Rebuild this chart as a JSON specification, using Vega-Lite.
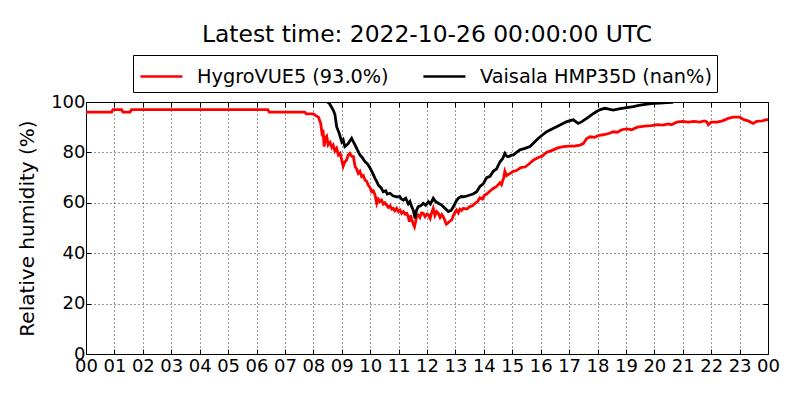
{
  "$schema": "https://vega.github.io/schema/vega-lite/v6.json",
  "width": 682,
  "height": 252,
  "autosize": {"type": "none"},
  "padding": {"left": 86, "top": 102, "right": 32, "bottom": 46},
  "background": "white",
  "config": {
    "font": "DejaVu Sans",
    "view": {"stroke": "black", "strokeWidth": 1},
    "axis": {"domain": false, "gridColor": "black", "gridDash": [1, 3], "gridOpacity": 0.8, "gridWidth": 1, "tickColor": "black", "labelColor": "black", "titleColor": "black", "labelFont": "DejaVu Sans", "titleFont": "DejaVu Sans"}
  },
  "title": {"text": "Latest time: 2022-10-26 00:00:00 UTC", "fontSize": 23.4, "fontWeight": "normal", "font": "DejaVu Sans", "color": "black", "anchor": "middle", "frame": "group", "baseline": "alphabetic", "offset": -11},
  "datasets": {
    "hygro": [
      {"h": 0, "v": 96}, {"h": 0.9, "v": 96}, {"h": 0.95, "v": 97}, {"h": 1.25, "v": 97}, {"h": 1.3, "v": 96}, {"h": 1.55, "v": 96}, {"h": 1.6, "v": 97}, {"h": 6.4, "v": 97}, {"h": 6.45, "v": 96}, {"h": 7.7, "v": 96}, {"h": 7.75, "v": 95.3}, {"h": 8.0, "v": 95.3}, {"h": 8.1, "v": 94.5}, {"h": 8.18, "v": 94}, {"h": 8.26, "v": 91.5}, {"h": 8.3, "v": 88}, {"h": 8.34, "v": 89}, {"h": 8.38, "v": 82.3}, {"h": 8.43, "v": 86}, {"h": 8.47, "v": 86.5}, {"h": 8.52, "v": 83}, {"h": 8.59, "v": 84}, {"h": 8.65, "v": 82}, {"h": 8.7, "v": 82.9}, {"h": 8.76, "v": 80.5}, {"h": 8.82, "v": 81.6}, {"h": 8.88, "v": 79}, {"h": 8.94, "v": 79.6}, {"h": 9.0, "v": 77}, {"h": 9.05, "v": 74.5}, {"h": 9.1, "v": 76}, {"h": 9.17, "v": 77}, {"h": 9.23, "v": 79}, {"h": 9.28, "v": 79.6}, {"h": 9.35, "v": 78.5}, {"h": 9.41, "v": 78.3}, {"h": 9.47, "v": 74.3}, {"h": 9.52, "v": 73.5}, {"h": 9.58, "v": 71.7}, {"h": 9.64, "v": 72.5}, {"h": 9.7, "v": 70.4}, {"h": 9.76, "v": 70.8}, {"h": 9.82, "v": 69}, {"h": 9.88, "v": 68.5}, {"h": 9.93, "v": 67}, {"h": 10.0, "v": 66}, {"h": 10.05, "v": 64.4}, {"h": 10.11, "v": 64.8}, {"h": 10.17, "v": 63.1}, {"h": 10.23, "v": 59.8}, {"h": 10.28, "v": 61.5}, {"h": 10.34, "v": 60.5}, {"h": 10.4, "v": 61.1}, {"h": 10.46, "v": 59.5}, {"h": 10.52, "v": 60}, {"h": 10.58, "v": 59.1}, {"h": 10.64, "v": 58.2}, {"h": 10.7, "v": 58.8}, {"h": 10.76, "v": 57.5}, {"h": 10.81, "v": 57.8}, {"h": 10.87, "v": 56.8}, {"h": 10.93, "v": 57.8}, {"h": 11.0, "v": 56.5}, {"h": 11.05, "v": 57.1}, {"h": 11.11, "v": 55.8}, {"h": 11.17, "v": 56.5}, {"h": 11.23, "v": 55.5}, {"h": 11.29, "v": 55.8}, {"h": 11.34, "v": 54.5}, {"h": 11.38, "v": 52.5}, {"h": 11.42, "v": 55}, {"h": 11.46, "v": 53.5}, {"h": 11.52, "v": 51.5}, {"h": 11.56, "v": 50.5}, {"h": 11.6, "v": 52.5}, {"h": 11.64, "v": 55}, {"h": 11.69, "v": 55.2}, {"h": 11.75, "v": 54.2}, {"h": 11.81, "v": 56}, {"h": 11.87, "v": 55.8}, {"h": 11.93, "v": 54.5}, {"h": 12.0, "v": 55.5}, {"h": 12.05, "v": 55.2}, {"h": 12.11, "v": 53.8}, {"h": 12.17, "v": 56.2}, {"h": 12.22, "v": 57.8}, {"h": 12.28, "v": 55}, {"h": 12.34, "v": 56.5}, {"h": 12.4, "v": 55.8}, {"h": 12.46, "v": 54.2}, {"h": 12.52, "v": 55.3}, {"h": 12.57, "v": 54.5}, {"h": 12.63, "v": 53}, {"h": 12.68, "v": 51.5}, {"h": 12.72, "v": 51.8}, {"h": 12.78, "v": 52.5}, {"h": 12.87, "v": 53.2}, {"h": 12.93, "v": 55}, {"h": 13.0, "v": 56.5}, {"h": 13.04, "v": 57.1}, {"h": 13.1, "v": 56}, {"h": 13.16, "v": 57.5}, {"h": 13.22, "v": 57}, {"h": 13.28, "v": 57.8}, {"h": 13.4, "v": 57.5}, {"h": 13.51, "v": 58.5}, {"h": 13.6, "v": 58.8}, {"h": 13.69, "v": 59.8}, {"h": 13.78, "v": 60.5}, {"h": 13.86, "v": 62}, {"h": 13.95, "v": 61.5}, {"h": 14.02, "v": 63}, {"h": 14.1, "v": 63.5}, {"h": 14.2, "v": 64.5}, {"h": 14.33, "v": 65.7}, {"h": 14.45, "v": 66.5}, {"h": 14.57, "v": 68}, {"h": 14.62, "v": 67.2}, {"h": 14.7, "v": 70}, {"h": 14.74, "v": 72.5}, {"h": 14.8, "v": 70.8}, {"h": 14.9, "v": 71.5}, {"h": 15.04, "v": 72.5}, {"h": 15.15, "v": 72.8}, {"h": 15.3, "v": 74}, {"h": 15.45, "v": 74.2}, {"h": 15.6, "v": 75.5}, {"h": 15.75, "v": 77}, {"h": 15.92, "v": 78}, {"h": 16.05, "v": 78.5}, {"h": 16.2, "v": 80}, {"h": 16.4, "v": 80.8}, {"h": 16.6, "v": 81.8}, {"h": 16.8, "v": 82.3}, {"h": 17.0, "v": 82.5}, {"h": 17.2, "v": 82.5}, {"h": 17.38, "v": 82.9}, {"h": 17.5, "v": 83.5}, {"h": 17.62, "v": 85.5}, {"h": 17.74, "v": 86.2}, {"h": 17.9, "v": 86}, {"h": 18.05, "v": 86.8}, {"h": 18.2, "v": 87}, {"h": 18.4, "v": 87.5}, {"h": 18.55, "v": 88.2}, {"h": 18.7, "v": 88}, {"h": 18.85, "v": 89}, {"h": 19.03, "v": 89.3}, {"h": 19.2, "v": 89}, {"h": 19.4, "v": 90}, {"h": 19.6, "v": 90.3}, {"h": 19.73, "v": 90.5}, {"h": 19.9, "v": 90.6}, {"h": 20.1, "v": 91}, {"h": 20.3, "v": 90.8}, {"h": 20.5, "v": 91.3}, {"h": 20.6, "v": 91}, {"h": 20.79, "v": 92}, {"h": 21.0, "v": 92.3}, {"h": 21.2, "v": 92}, {"h": 21.4, "v": 92.3}, {"h": 21.6, "v": 92}, {"h": 21.75, "v": 92.5}, {"h": 21.84, "v": 92.2}, {"h": 21.9, "v": 91}, {"h": 22.0, "v": 92}, {"h": 22.2, "v": 92}, {"h": 22.4, "v": 92.5}, {"h": 22.6, "v": 93.5}, {"h": 22.78, "v": 94}, {"h": 23.0, "v": 94}, {"h": 23.15, "v": 93}, {"h": 23.3, "v": 92.5}, {"h": 23.48, "v": 91.5}, {"h": 23.6, "v": 92.3}, {"h": 23.8, "v": 92.5}, {"h": 23.95, "v": 93}, {"h": 24, "v": 93}
    ],
    "vaisala": [
      {"h": 8.5, "v": 100}, {"h": 8.56, "v": 99.5}, {"h": 8.7, "v": 96.8}, {"h": 8.76, "v": 95}, {"h": 8.82, "v": 90.2}, {"h": 8.91, "v": 87.6}, {"h": 9.0, "v": 84.2}, {"h": 9.05, "v": 85}, {"h": 9.11, "v": 82.3}, {"h": 9.17, "v": 82.8}, {"h": 9.23, "v": 83.6}, {"h": 9.35, "v": 85.6}, {"h": 9.41, "v": 84.2}, {"h": 9.47, "v": 82.9}, {"h": 9.55, "v": 81}, {"h": 9.64, "v": 79}, {"h": 9.72, "v": 78}, {"h": 9.82, "v": 76.3}, {"h": 9.9, "v": 75.5}, {"h": 10.0, "v": 73.7}, {"h": 10.08, "v": 72}, {"h": 10.17, "v": 69.7}, {"h": 10.23, "v": 68.5}, {"h": 10.29, "v": 67}, {"h": 10.38, "v": 66}, {"h": 10.46, "v": 64.4}, {"h": 10.55, "v": 64.8}, {"h": 10.6, "v": 63.5}, {"h": 10.7, "v": 63.8}, {"h": 10.8, "v": 62.8}, {"h": 10.93, "v": 62.4}, {"h": 11.05, "v": 62.4}, {"h": 11.1, "v": 61.5}, {"h": 11.17, "v": 61.1}, {"h": 11.25, "v": 61.8}, {"h": 11.34, "v": 59.6}, {"h": 11.4, "v": 60.5}, {"h": 11.46, "v": 58.5}, {"h": 11.52, "v": 57}, {"h": 11.58, "v": 53.8}, {"h": 11.63, "v": 57}, {"h": 11.69, "v": 58.5}, {"h": 11.78, "v": 58.8}, {"h": 11.87, "v": 59.8}, {"h": 11.95, "v": 59}, {"h": 12.05, "v": 60.4}, {"h": 12.12, "v": 59.5}, {"h": 12.22, "v": 61.8}, {"h": 12.3, "v": 60.5}, {"h": 12.4, "v": 59.8}, {"h": 12.5, "v": 59.2}, {"h": 12.57, "v": 58.5}, {"h": 12.66, "v": 57.5}, {"h": 12.75, "v": 56.5}, {"h": 12.85, "v": 57}, {"h": 12.93, "v": 58.5}, {"h": 13.02, "v": 60.5}, {"h": 13.1, "v": 61.8}, {"h": 13.2, "v": 62.5}, {"h": 13.28, "v": 62.4}, {"h": 13.4, "v": 62.7}, {"h": 13.51, "v": 63.1}, {"h": 13.62, "v": 63.5}, {"h": 13.75, "v": 64.4}, {"h": 13.86, "v": 66.5}, {"h": 13.98, "v": 67.5}, {"h": 14.1, "v": 70}, {"h": 14.22, "v": 70.5}, {"h": 14.33, "v": 72.5}, {"h": 14.45, "v": 73.5}, {"h": 14.57, "v": 76.3}, {"h": 14.66, "v": 77.5}, {"h": 14.74, "v": 79.6}, {"h": 14.8, "v": 78.5}, {"h": 14.86, "v": 78.3}, {"h": 14.95, "v": 78.8}, {"h": 15.04, "v": 79}, {"h": 15.15, "v": 80}, {"h": 15.27, "v": 81}, {"h": 15.45, "v": 81.6}, {"h": 15.62, "v": 82.3}, {"h": 15.78, "v": 84}, {"h": 15.92, "v": 85.6}, {"h": 16.05, "v": 86.8}, {"h": 16.21, "v": 88.2}, {"h": 16.4, "v": 89.3}, {"h": 16.56, "v": 90.2}, {"h": 16.75, "v": 91.3}, {"h": 16.92, "v": 92.2}, {"h": 17.15, "v": 92.9}, {"h": 17.32, "v": 91.5}, {"h": 17.45, "v": 92.2}, {"h": 17.62, "v": 93.5}, {"h": 17.8, "v": 95}, {"h": 17.97, "v": 96.2}, {"h": 18.1, "v": 97}, {"h": 18.26, "v": 97.5}, {"h": 18.4, "v": 97.2}, {"h": 18.55, "v": 96.8}, {"h": 18.8, "v": 97.4}, {"h": 19.03, "v": 97.8}, {"h": 19.25, "v": 98.2}, {"h": 19.5, "v": 98.8}, {"h": 19.75, "v": 99.2}, {"h": 19.97, "v": 99.5}, {"h": 20.2, "v": 99.6}, {"h": 20.43, "v": 99.8}, {"h": 20.66, "v": 99.9}
    ]
  },
  "layer": [
    {
      "data": {"name": "hygro"},
      "transform": [{"calculate": "'HygroVUE5 (93.0%)'", "as": "series"}],
      "mark": {"type": "line", "strokeWidth": 2.8, "clip": true},
      "encoding": {
        "x": {"field": "h", "type": "quantitative", "scale": {"domain": [0, 24], "nice": false, "zero": false},
          "axis": {"orient": "bottom", "title": null, "values": [0,1,2,3,4,5,6,7,8,9,10,11,12,13,14,15,16,17,18,19,20,21,22,23,24], "labelExpr": "datum.value == 24 ? '00' : format(datum.value, '02d')", "labelFontSize": 18, "labelPadding": 8, "tickSize": -5, "grid": true, "labelFlush": false, "labelOverlap": false}},
        "y": {"field": "v", "type": "quantitative", "scale": {"domain": [0, 100], "nice": false},
          "axis": {"orient": "left", "title": "Relative humidity (%)", "titleFontSize": 20, "titleFontWeight": "normal", "titlePadding": 13, "values": [0, 20, 40, 60, 80, 100], "labelFontSize": 18, "labelPadding": 6, "tickSize": -5, "grid": true, "labelFlush": false}},
        "color": {"field": "series", "type": "nominal",
          "scale": {"domain": ["HygroVUE5 (93.0%)", "Vaisala HMP35D (nan%)"], "range": ["#ff0000", "#000000"]},
          "legend": {"title": null, "orient": "none", "legendX": 47, "legendY": -47, "direction": "horizontal", "strokeColor": "black", "fillColor": "white", "padding": 5, "labelFontSize": 19.3, "labelFont": "DejaVu Sans", "labelColor": "black", "labelLimit": 400, "labelOffset": 26, "symbolType": "M-0.94,0H1.86", "symbolSize": 900, "symbolStrokeWidth": 2.5, "columnPadding": 29, "cornerRadius": 0}}
      }
    },
    {
      "data": {"name": "vaisala"},
      "transform": [{"calculate": "'Vaisala HMP35D (nan%)'", "as": "series"}],
      "mark": {"type": "line", "strokeWidth": 2.8, "clip": true},
      "encoding": {
        "x": {"field": "h", "type": "quantitative", "axis": {"orient": "top", "title": null, "labels": false, "grid": false, "tickSize": -5, "values": [0,1,2,3,4,5,6,7,8,9,10,11,12,13,14,15,16,17,18,19,20,21,22,23,24]}},
        "y": {"field": "v", "type": "quantitative", "axis": {"orient": "right", "title": null, "labels": false, "grid": false, "tickSize": -5, "values": [0, 20, 40, 60, 80, 100]}},
        "color": {"field": "series", "type": "nominal"}
      }
    }
  ]
}
